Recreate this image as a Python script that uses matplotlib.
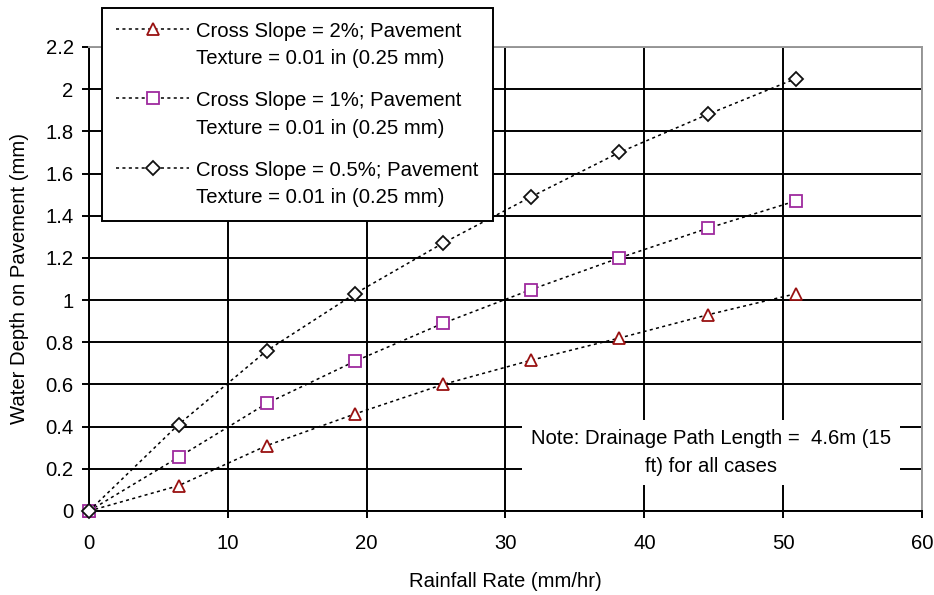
import matplotlib
matplotlib.use("Agg")
import matplotlib.pyplot as plt

plt.rcParams['font.family'] = ['Liberation Sans', 'DejaVu Sans']

rain = [0, 6.45, 12.8, 19.15, 25.5, 31.85, 38.2, 44.55, 50.9]
depth_2pct = [0, 0.12, 0.31, 0.46, 0.60, 0.715, 0.82, 0.93, 1.03]
depth_1pct = [0, 0.255, 0.51, 0.71, 0.89, 1.05, 1.20, 1.34, 1.47]
depth_05pct = [0, 0.41, 0.76, 1.03, 1.27, 1.49, 1.70, 1.88, 2.05]

labels = ["Cross Slope = 2%; Pavement\nTexture = 0.01 in (0.25 mm)",
          "Cross Slope = 1%; Pavement\nTexture = 0.01 in (0.25 mm)",
          "Cross Slope = 0.5%; Pavement\nTexture = 0.01 in (0.25 mm)"]
xticks = [0, 10, 20, 30, 40, 50, 60]
yticks = [0, 0.2, 0.4, 0.6, 0.8, 1, 1.2, 1.4, 1.6, 1.8, 2, 2.2]
ytick_labels = ["0", "0.2", "0.4", "0.6", "0.8", "1", "1.2", "1.4", "1.6", "1.8", "2", "2.2"]

fig = plt.figure(figsize=(9.34, 5.95), dpi=100)
ax = fig.add_axes([89/934, 1-511/595, (922-89)/934, (511-47)/595])

fs = 14.6
ls = (0, (2, 2.2))
series = [
    (depth_2pct, '^', '#991111', 9),
    (depth_1pct, 's', '#9E2A9E', 8.5),
    (depth_05pct, 'D', '#111111', 6.8),
]
handles = []
for (ys, mk, col, ms), lab in zip(series, labels):
    h, = ax.plot(rain, ys, linestyle=ls, color='black', linewidth=1.1,
                 marker=mk, markersize=ms, markerfacecolor='white',
                 markeredgecolor=col, markeredgewidth=1.3, label=lab, zorder=3,
                 clip_on=False)
    handles.append(h)

ax.set_xlim(0, 60)
ax.set_ylim(0, 2.2)
ax.set_xticks(xticks)
ax.set_yticks(yticks)
ax.set_yticklabels(ytick_labels)
ax.grid(True, color='black', linewidth=1.4)
ax.set_axisbelow(True)
for name, s in ax.spines.items():
    s.set_linewidth(1.4)
    s.set_color('black' if name in ('left', 'bottom') else '#999999')
    s.set_zorder(2.5)
ax.tick_params(direction='out', length=5, width=1.4, labelsize=fs, colors='black')
ax.tick_params(axis='x', pad=11.5)
ax.tick_params(axis='y', pad=6)

ax.set_xlabel("Rainfall Rate (mm/hr)", fontsize=fs, labelpad=14)
ax.set_ylabel("Water Depth on Pavement (mm)", fontsize=fs, labelpad=12)

leg = ax.legend(handles=handles, loc='upper left', bbox_to_anchor=(102/934, 1-8/595),
                bbox_transform=fig.transFigure, borderaxespad=0, fontsize=fs,
                frameon=True, fancybox=False, edgecolor='black', framealpha=1,
                handlelength=3.6, handletextpad=0.35, labelspacing=1.13,
                borderpad=0.7)
for t in leg.get_texts():
    t.set_linespacing(1.55)
try:
    for col in leg._legend_handle_box.get_children():
        for item in col.get_children():
            item.align = 'top'
except Exception:
    pass
leg.get_frame().set_linewidth(1.4)
leg.set_zorder(5)

ax.text(44.8, 0.277, "Note: Drainage Path Length =  4.6m (15\nft) for all cases",
        fontsize=fs, ha='center', va='center', linespacing=1.6, zorder=4,
        bbox=dict(boxstyle='square,pad=0.45', facecolor='white', edgecolor='none'))

fig.savefig("out.png", dpi=100)
